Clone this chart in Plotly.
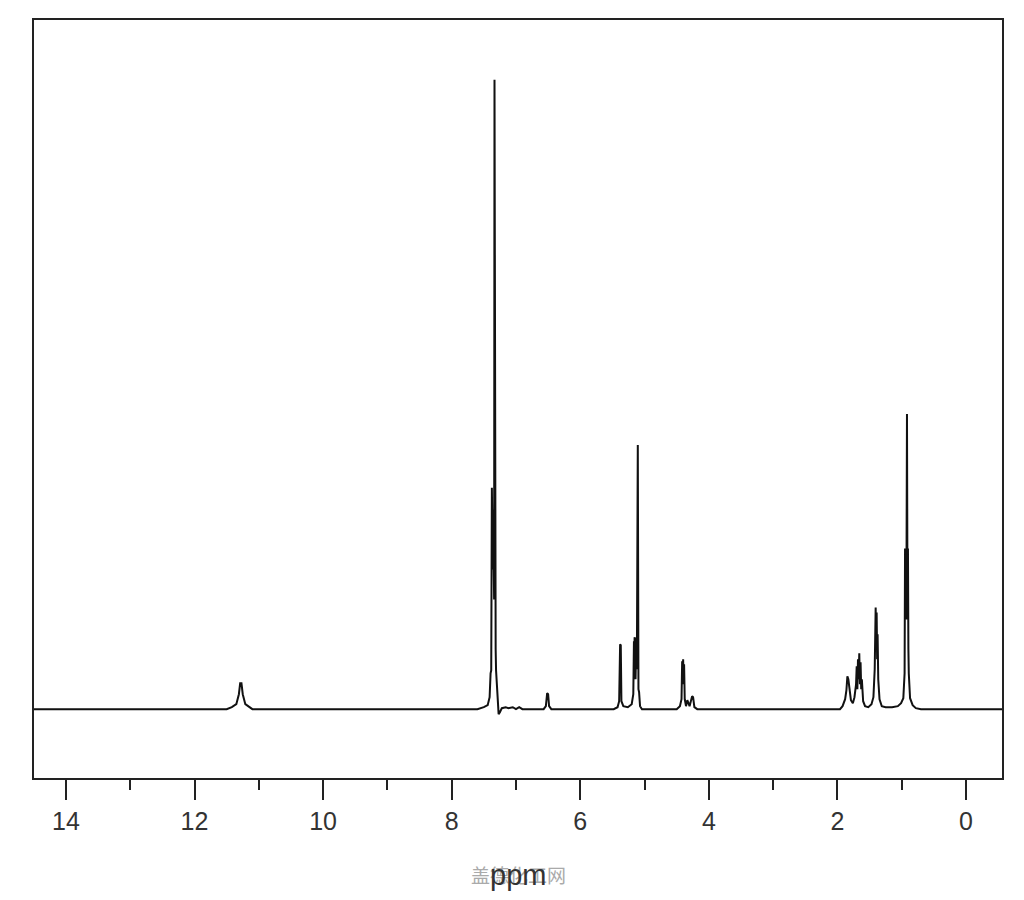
import plotly.graph_objects as go

# Spectrum trace vertices (chemical shift in ppm, relative intensity)
ppm = [14.6, 11.50, 11.42, 11.35, 11.31, 11.29, 11.27, 11.25, 11.21, 11.15, 11.10,
       7.60, 7.50, 7.44, 7.41, 7.395, 7.385, 7.375, 7.370, 7.365, 7.360, 7.355, 7.350,
       7.345, 7.340, 7.334, 7.328, 7.322, 7.316, 7.310, 7.300, 7.285, 7.270, 7.250,
       7.220, 7.160, 7.120, 7.050, 7.000, 6.950, 6.900,
       6.570, 6.535, 6.515, 6.500, 6.485, 6.450,
       5.480, 5.420, 5.395, 5.380, 5.370, 5.360, 5.330, 5.260, 5.200, 5.175, 5.165,
       5.160, 5.155, 5.150, 5.145, 5.140, 5.130, 5.120, 5.105, 5.095, 5.085, 5.070, 5.040,
       4.500, 4.450, 4.425, 4.415, 4.408, 4.400, 4.392, 4.385, 4.375, 4.355, 4.335,
       4.300, 4.260, 4.245, 4.225, 4.180,
       1.960, 1.920, 1.880, 1.860, 1.845, 1.830, 1.815, 1.790, 1.760, 1.735, 1.710,
       1.700, 1.690, 1.680, 1.670, 1.660, 1.650, 1.640, 1.630, 1.620, 1.600, 1.570,
       1.520, 1.470, 1.440, 1.420, 1.405, 1.398, 1.390, 1.382, 1.375, 1.365, 1.345,
       1.310, 1.250, 1.150, 1.060, 1.010, 0.975, 0.955, 0.948, 0.942, 0.935, 0.928,
       0.918, 0.910, 0.903, 0.896, 0.890, 0.870, 0.830, 0.780, 0.700, -0.7]

intensity = [0, 0, 2, 5, 15, 26, 26, 15, 5, 2, 0,
             0, 2, 4, 12, 36, 39, 222, 150, 215, 140, 200, 120,
             172, 110, 631, 120, 165, 60, 39, 30, 6, -5, -3,
             1, 2, 1, 2, 0, 2, 0,
             0, 3, 16, 15, 3, 0,
             0, 2, 8, 65, 64, 8, 3, 2, 5, 15, 68,
             30, 72, 35, 70, 30, 65, 40, 265, 20, 17, 3, 0,
             0, 3, 10, 48, 25, 50, 30, 45, 10, 3, 9,
             3, 13, 12, 2, 0,
             0, 3, 10, 19, 33, 30, 22, 9, 6, 12, 25,
             43, 20, 50, 30, 56, 25, 47, 20, 30, 8, 3,
             2, 5, 12, 40, 102, 60, 97, 50, 75, 30, 10,
             3, 2, 2, 3, 6, 11, 36, 161, 100, 155, 90,
             296, 100, 161, 60, 36, 11, 4, 1, 0, 0]

tick_vals = [14, 12, 10, 8, 6, 4, 2, 0]
tick_text = ["14", "12", "10", "8", "6", "4", "2", "0"]
x_title = "ppm"
watermark = "盖德化工网"

fig = go.Figure()
fig.add_trace(go.Scatter(
    x=ppm, y=intensity, mode="lines",
    line=dict(color="#111111", width=2),
    hoverinfo="skip", showlegend=False,
))

fig.update_layout(
    width=1016, height=892,
    margin=dict(l=26, r=22, t=10, b=122),
    paper_bgcolor="white", plot_bgcolor="white",
    font=dict(family="Liberation Sans, Arial, sans-serif", color="#333333"),
)

fig.update_xaxes(
    range=[14.497, -0.56],
    showline=True, linecolor="#222222", linewidth=2, mirror=True,
    showgrid=False, zeroline=False,
    ticks="outside", ticklen=20, tickwidth=2, tickcolor="#222222",
    tickvals=tick_vals, ticktext=tick_text,
    tickfont=dict(size=25, color="#333333", family="Liberation Sans, Arial, sans-serif"),
    minor=dict(dtick=1, ticks="outside", ticklen=10, tickwidth=2, tickcolor="#222222", showgrid=False),
)

fig.update_yaxes(
    range=[-69, 691],
    showline=True, linecolor="#222222", linewidth=2, mirror=True,
    showgrid=False, zeroline=False, showticklabels=False, ticks="",
)

fig.add_annotation(
    text=watermark, xref="paper", yref="paper", x=0.5, y=-0.127,
    showarrow=False, font=dict(size=19, color="#aaaaaa", family="Noto Sans CJK SC"),
    xanchor="center", yanchor="middle",
)
fig.add_annotation(
    text=x_title, xref="paper", yref="paper", x=0.5, y=-0.128,
    showarrow=False, font=dict(size=29, color="#333333", family="Liberation Sans, Arial, sans-serif"),
    xanchor="center", yanchor="middle",
)

fig.write_html("out.html")
